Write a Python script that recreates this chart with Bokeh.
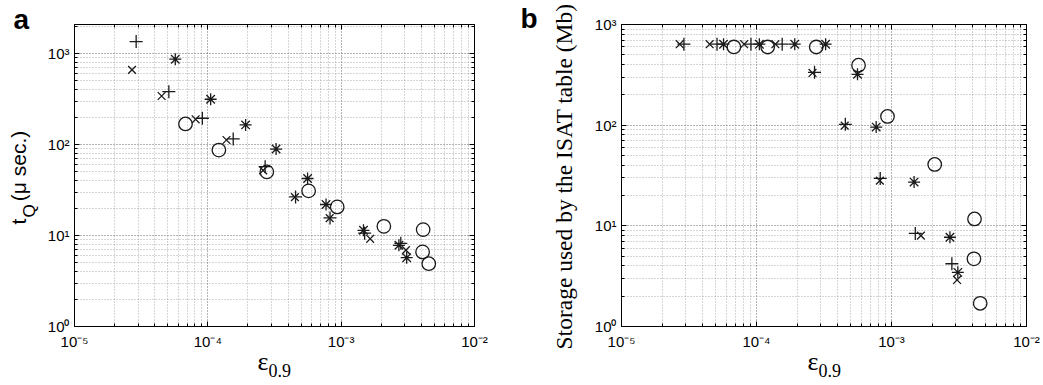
import math
from bokeh.plotting import figure
from bokeh.models import FixedTicker, CustomJSTickFormatter, LogAxis, Label
from bokeh.layouts import row
from bokeh.embed import file_html
from bokeh.resources import INLINE

# ---- data ----
eps_plus = [2.9e-5, 5.1e-5, 9.1e-5, 1.55e-4, 2.69e-4, 4.55e-4, 8.25e-4, 1.5e-3, 2.8e-3]
eps_cross = [2.7e-5, 4.5e-5, 8.1e-5, 1.38e-4, 2.6e-4, 4.5e-4, 8.2e-4, 1.65e-3, 3.06e-3]
eps_star = [5.7e-5, 1.05e-4, 1.92e-4, 3.25e-4, 5.6e-4, 7.7e-4, 1.47e-3, 2.71e-3, 3.1e-3]
eps_circle = [6.8e-5, 1.21e-4, 2.77e-4, 5.7e-4, 9.34e-4, 2.09e-3, 4.12e-3, 4.08e-3, 4.54e-3]

tq_plus = [1352, 380, 194, 115, 57, 26.5, 15.6, 10.6, 8.2]
tq_cross = [660, 341, 189, 112, 52, 26.4, 15.5, 9.2, 6.9]
tq_star = [865, 314, 164, 89, 42.3, 21.9, 11.4, 7.8, 5.7]
tq_circle = [168, 86.7, 50, 30.9, 20.6, 12.6, 11.6, 6.6, 4.9]

st_plus = [637, 637, 637, 637, 335, 102, 29.6, 8.4, 4.2]
st_cross = [637, 637, 637, 637, 330, 99, 28.1, 8.0, 2.9]
st_star = [637, 637, 637, 637, 320, 95.7, 27.2, 7.7, 3.45]
st_circle = [598, 598, 598, 394, 122, 40.7, 11.7, 4.7, 1.70]

x_ticks = [1e-5, 1e-4, 1e-3, 1e-2]
x_tick_labels = ["10\u207b\u2075", "10\u207b\u2074", "10\u207b\u00b3", "10\u207b\u00b2"]
y_ticks = [1, 10, 100, 1000]
y_tick_labels = ["10\u2070", "10\u00b9", "10\u00b2", "10\u00b3"]

INK = "#1a1a1a"


def minor(decades, lo, hi):
    return [m * 10.0 ** k for k in decades for m in range(2, 10) if lo < m * 10.0 ** k < hi]


def fmt(vals, labels):
    return CustomJSTickFormatter(args=dict(tvals=vals, tlabels=labels), code="""
        for (let i = 0; i < tvals.length; i++) {
            if (Math.abs(Math.log10(tick) - Math.log10(tvals[i])) < 1e-6) return tlabels[i];
        }
        return "";
    """)


def blank_fmt():
    return CustomJSTickFormatter(code="return '';")


def style_axis(ax):
    ax.major_tick_in = 5
    ax.major_tick_out = 0
    ax.minor_tick_in = 3
    ax.minor_tick_out = 0
    ax.axis_line_color = "black"
    ax.major_tick_line_color = "black"
    ax.minor_tick_line_color = "black"
    ax.major_label_text_font = "Liberation Sans"
    ax.major_label_text_font_size = "15px"
    ax.major_label_text_color = "black"


def make_panel(width, left, right, ymax, series):
    p = figure(width=width, height=385, x_axis_type="log", y_axis_type="log",
               x_range=(1e-5, 1e-2), y_range=(1, ymax),
               output_backend="svg", toolbar_location=None,
               min_border_left=left, min_border_right=right,
               min_border_top=24, min_border_bottom=59)
    p.background_fill_color = "white"
    p.border_fill_color = "white"
    p.outline_line_color = "black"
    p.outline_line_width = 1

    xt = FixedTicker(ticks=x_ticks, minor_ticks=minor(range(-5, -2), 1e-5, 1e-2))
    yt = FixedTicker(ticks=y_ticks, minor_ticks=minor(range(0, 4), 1, ymax))
    p.xaxis.ticker = xt
    p.yaxis.ticker = yt
    p.xaxis.formatter = fmt(x_ticks, x_tick_labels)
    p.yaxis.formatter = fmt(y_ticks, y_tick_labels)
    for ax in p.xaxis + p.yaxis:
        style_axis(ax)
    p.xaxis.major_label_standoff = 6
    p.yaxis.major_label_standoff = 5

    ra = LogAxis(ticker=yt, formatter=blank_fmt())
    ta = LogAxis(ticker=xt, formatter=blank_fmt())
    for ax in (ra, ta):
        style_axis(ax)
        ax.major_label_standoff = 0
        ax.major_label_text_font_size = "1px"
    p.add_layout(ra, "right")
    p.add_layout(ta, "above")

    p.grid.grid_line_color = "#444444"
    p.grid.grid_line_dash = "1 2"
    p.grid.grid_line_alpha = 0.8
    p.grid.minor_grid_line_color = "#777777"
    p.grid.minor_grid_line_dash = "1 2"
    p.grid.minor_grid_line_alpha = 0.6

    (xp, yp), (xc, yc), (xs, ys), (xo, yo) = series
    p.scatter(xp, yp, marker="cross", size=13, line_color=INK, line_width=1.3)
    p.scatter(xc, yc, marker="x", size=11, line_color=INK, line_width=1.3)
    p.scatter(xs, ys, marker="asterisk", size=12, line_color=INK, line_width=1.3)
    p.scatter(xo, yo, marker="circle", size=13.5, line_color=INK, fill_color=None, line_width=1.3)
    return p


def lab(p, side, x, y, text, size, font="Liberation Sans", style="normal", angle=0.0, align="left"):
    # canvas-unit label, hosted in a side panel so that it is not clipped to the frame
    p.add_layout(Label(x=x, y=y, x_units="canvas", y_units="canvas", text=text,
                       text_font=font, text_font_size=size, text_font_style=style,
                       text_color="black", angle=angle, text_align=align,
                       text_baseline="alphabetic"), side)


pa = make_panel(520, 74, 46, 2080,
                [(eps_plus, tq_plus), (eps_cross, tq_cross),
                 (eps_star, tq_star), (eps_circle, tq_circle)])
pb = make_panel(523, 101, 17, 1000,
                [(eps_plus, st_plus), (eps_cross, st_cross),
                 (eps_star, st_star), (eps_circle, st_circle)])

half_pi = math.pi / 2
nb = "\u00a0"
# panel letters
lab(pa, "below", 13, 19, "a", "28px", style="bold")
lab(pb, "below", 0, 18, "b", "28px", style="bold")

# y labels
lab(pa, "left", 18, 224, "t" + nb * 3 + "(\u03bc sec.)", "21px", angle=half_pi)
lab(pa, "left", 29, 217, "Q", "17px", angle=half_pi)
lab(pb, "left", 43, 176, "Storage used by the ISAT table (Mb)", "23.5px",
    font="Liberation Serif", angle=half_pi, align="center")

# x labels
lab(pa, "right", 257, 361, "\u03b5", "26px", font="Liberation Serif")
lab(pa, "right", 268, 370, "0.9", "18px", font="Liberation Serif")
lab(pb, "left", 287, 361, "\u03b5", "26px", font="Liberation Serif")
lab(pb, "left", 298, 370, "0.9", "18px", font="Liberation Serif")

layout = row(pa, pb)
open("out.html", "w").write(file_html(layout, INLINE))
